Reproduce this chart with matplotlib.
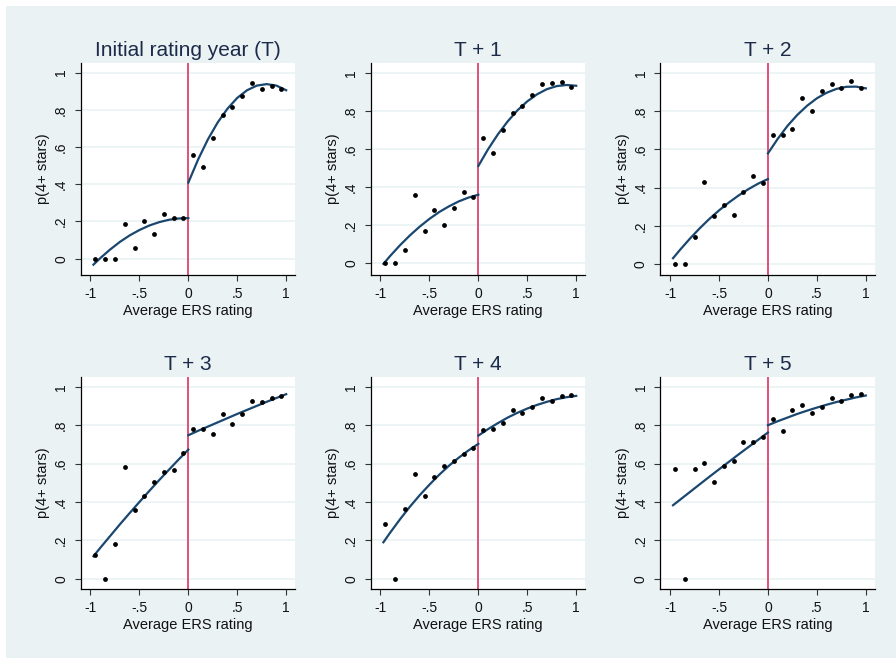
import numpy as np
import matplotlib.pyplot as plt
from matplotlib.patches import Rectangle

plt.rcParams['font.family'] = ['Liberation Sans', 'DejaVu Sans']

# bins centres (x) and binned share of 4+ stars per panel
x_bins = [-0.95, -0.85, -0.75, -0.65, -0.55, -0.45, -0.35, -0.25, -0.15, -0.05,
          0.05, 0.15, 0.25, 0.35, 0.45, 0.55, 0.65, 0.75, 0.85, 0.95]

titles = ["Initial rating year (T)", "T + 1", "T + 2", "T + 3", "T + 4", "T + 5"]

pts_t0 = [0.0, 0.0, 0.0, 0.189, 0.059, 0.200, 0.132, 0.239, 0.221, 0.216,
          0.557, 0.495, 0.648, 0.771, 0.816, 0.875, 0.943, 0.913, 0.930, 0.913]
pts_t1 = [0.0, 0.0, 0.068, 0.358, 0.167, 0.282, 0.200, 0.292, 0.376, 0.348,
          0.657, 0.579, 0.701, 0.788, 0.826, 0.882, 0.939, 0.944, 0.953, 0.925]
pts_t2 = [0.0, 0.0, 0.143, 0.429, 0.253, 0.307, 0.259, 0.379, 0.462, 0.422,
          0.674, 0.674, 0.709, 0.866, 0.802, 0.905, 0.943, 0.921, 0.959, 0.921]
pts_t3 = [0.125, 0.0, 0.181, 0.584, 0.358, 0.430, 0.503, 0.558, 0.567, 0.657,
          0.783, 0.783, 0.755, 0.861, 0.805, 0.861, 0.927, 0.920, 0.944, 0.950]
pts_t4 = [0.287, 0.0, 0.365, 0.546, 0.430, 0.530, 0.590, 0.612, 0.649, 0.683,
          0.777, 0.783, 0.810, 0.878, 0.864, 0.894, 0.944, 0.925, 0.955, 0.960]
pts_t5 = [0.574, 0.0, 0.574, 0.602, 0.503, 0.590, 0.612, 0.711, 0.711, 0.737,
          0.833, 0.772, 0.878, 0.906, 0.866, 0.894, 0.944, 0.927, 0.960, 0.965]

x_left = [-0.97, -0.9, -0.8, -0.7, -0.6, -0.5, -0.4, -0.3, -0.2, -0.1, 0.0]
x_right = [0.0, 0.1, 0.2, 0.3, 0.4, 0.5, 0.6, 0.7, 0.8, 0.9, 1.0]

fit_left_t0 = [-0.032, 0.003, 0.049, 0.090, 0.125, 0.154, 0.178, 0.196, 0.209, 0.216, 0.218]
fit_right_t0 = [0.409, 0.533, 0.641, 0.732, 0.806, 0.864, 0.905, 0.930, 0.938, 0.930, 0.905]
fit_left_t1 = [-0.003, 0.039, 0.095, 0.146, 0.192, 0.233, 0.269, 0.299, 0.325, 0.345, 0.360]
fit_right_t1 = [0.511, 0.599, 0.677, 0.745, 0.803, 0.850, 0.887, 0.914, 0.930, 0.936, 0.932]
fit_left_t2 = [0.031, 0.074, 0.132, 0.186, 0.236, 0.281, 0.322, 0.359, 0.392, 0.421, 0.445]
fit_right_t2 = [0.579, 0.655, 0.723, 0.780, 0.828, 0.867, 0.896, 0.916, 0.927, 0.928, 0.919]
fit_left_t3 = [0.117, 0.161, 0.222, 0.283, 0.342, 0.400, 0.457, 0.513, 0.567, 0.621, 0.673]
fit_right_t3 = [0.748, 0.771, 0.793, 0.815, 0.837, 0.859, 0.880, 0.901, 0.922, 0.942, 0.962]
fit_left_t4 = [0.190, 0.241, 0.310, 0.375, 0.435, 0.490, 0.542, 0.589, 0.631, 0.669, 0.703]
fit_right_t4 = [0.746, 0.780, 0.811, 0.840, 0.865, 0.887, 0.906, 0.922, 0.936, 0.946, 0.953]
fit_left_t5 = [0.383, 0.411, 0.451, 0.491, 0.531, 0.570, 0.609, 0.648, 0.686, 0.724, 0.762]
fit_right_t5 = [0.800, 0.821, 0.840, 0.859, 0.876, 0.892, 0.907, 0.921, 0.933, 0.945, 0.955]

puntos = [pts_t0, pts_t1, pts_t2, pts_t3, pts_t4, pts_t5]
ajuste_izq = [fit_left_t0, fit_left_t1, fit_left_t2, fit_left_t3, fit_left_t4, fit_left_t5]
ajuste_der = [fit_right_t0, fit_right_t1, fit_right_t2, fit_right_t3, fit_right_t4, fit_right_t5]
y_bottom = [-0.086, -0.06, -0.055, -0.052, -0.052, -0.052]

x_ticks = [-1, -0.5, 0, 0.5, 1]
x_ticklabels = ["-1", "-.5", "0", ".5", "1"]
y_ticks = [0, 0.2, 0.4, 0.6, 0.8, 1]
y_ticklabels = ["0", ".2", ".4", ".6", ".8", "1"]

bg = "#eaf2f3"
fig = plt.figure(figsize=(8.96, 6.58), dpi=100)
fig.patch.set_facecolor("white")
fig.patches.append(Rectangle((6 / 896, 0), 1, 1 - 6 / 658, transform=fig.transFigure,
                             facecolor=bg, edgecolor="none", zorder=-10))

lefts = [80.7, 370.7, 660.3]
tops = [62.7, 376.7]
W, H = 896, 658

for i in range(6):
    fila, col = divmod(i, 3)
    ax = fig.add_axes([lefts[col] / W, 1 - (tops[fila] + 212) / H, 214.3 / W, 212 / H])
    ax.set_facecolor("white")
    ax.plot(x_left, ajuste_izq[i], color="#1a476f", lw=1.6, zorder=3)
    ax.plot(x_right, ajuste_der[i], color="#1a476f", lw=1.6, zorder=3)
    ax.scatter(x_bins, puntos[i], s=12, color="black", zorder=4, linewidths=0)
    ax.axvline(0, color="#dc3463", lw=1.2, zorder=2)
    ax.set_xlim(-1.1, 1.09)
    ax.set_ylim(y_bottom[i], 1.053)
    ax.set_xticks(x_ticks)
    ax.set_xticklabels(x_ticklabels)
    ax.set_yticks(y_ticks)
    ax.set_yticklabels(y_ticklabels, rotation=90, va="center")
    ax.grid(axis="y", color=bg, lw=1.2, zorder=0)
    ax.set_axisbelow(True)
    for lado in ["top", "right"]:
        ax.spines[lado].set_visible(False)
    for lado in ["left", "bottom"]:
        ax.spines[lado].set_color("black")
        ax.spines[lado].set_linewidth(0.9)
    ax.tick_params(axis="both", length=4, width=0.8, labelsize=10, color="#333333",
                   labelcolor="#111111")
    ax.tick_params(axis="x", pad=5)
    ax.tick_params(axis="y", pad=5)
    ax.set_xlabel("Average ERS rating", fontsize=10.5, labelpad=2, color="#111111")
    ax.set_ylabel("p(4+ stars)", fontsize=10.5, labelpad=3, color="#111111")
    ax.set_title(titles[i], fontsize=15, color="#1c2b4a", pad=5)

fig.savefig("out.png", dpi=100, facecolor=fig.get_facecolor())
